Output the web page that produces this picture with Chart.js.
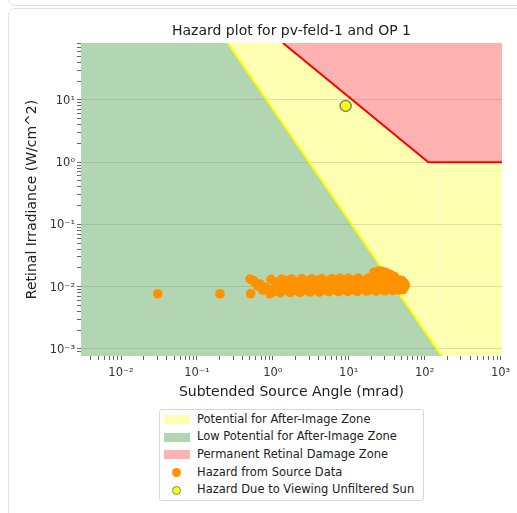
<!DOCTYPE html>
<html>
<head>
<meta charset="utf-8">
<script src="https://cdn.jsdelivr.net/npm/chart.js@4.4.1/dist/chart.umd.min.js"></script>
<style>
html, body { margin:0; padding:0; background:#fff; width:517px; height:513px; overflow:hidden; font-family:"DejaVu Sans", sans-serif; }
.prev { position:absolute; left:8px; top:-30px; width:620px; height:34px; border:1px solid #e2e2e2; border-radius:7px; }
.cell { position:absolute; left:8px; top:8px; width:620px; height:620px; border:1px solid #e2e2e2; border-radius:7px; }
#c { position:absolute; left:0; top:0; }
#legend { position:absolute; left:159px; top:409px; width:263px; height:90px; border:1px solid #d6d6d6; border-radius:3px; background:#fff; font-size:11.5px; color:#222; }
#legend .row { position:absolute; left:0; width:263px; height:17.7px; line-height:17.7px; white-space:nowrap; }
#legend .patch { position:absolute; left:4px; top:4.4px; width:26px; height:9px; }
#legend .dot { position:absolute; border-radius:50%; box-sizing:border-box; }
#legend .txt { position:absolute; left:37px; top:0; }
</style>
</head>
<body>
<div class="prev"></div>
<div class="cell"></div>
<canvas id="c" width="517" height="410"></canvas>
<div id="legend"></div>
<script>
// axis limits (mrad, W/cm^2)
var angleRange = [0.00297, 1045];
var irrRange = [0.00077, 82];

// zone boundaries
var lowZoneAngle = [0.00297, 0.255, 168];
var lowZoneIrr = [82, 82, 0.00077];
var afterImageAngle = [0.255, 168, 1045];
var afterImageIrr = [82, 0.00077, 0.00077];
var damageAngle = [1.36, 112, 1045];
var damageIrr = [82, 1, 1];

// hazard points
var hazardAngle = [
  0.0305, 0.201, 0.51,
  0.50, 0.56, 0.95, 1.31, 1.77, 2.40, 3.26, 4.41, 5.97, 7.68, 9.88, 13.4, 18.1, 23.4, 28.0,
  1.6, 2.6, 3.9, 5.4, 7.0, 9.0, 11.5, 14.5, 17.5, 21, 25, 30, 35, 40, 45, 50,
  0.58, 0.68, 1.08, 1.5, 2.05, 2.75, 3.7, 5.0, 6.7, 8.9, 11.8, 15.6, 20.5, 26.8, 34.5, 42.0,
  1.3, 1.8, 2.4, 3.2, 4.3, 5.7, 7.6, 10.0, 12.3, 15.0, 18.0, 21.5, 25.5, 30.5, 36, 41, 46, 50, 54,
  0.63, 0.80, 1.20, 1.62, 2.2, 2.95, 3.95, 5.3, 7.1, 9.4, 12.5, 16.6, 21.8, 28.5, 36.5, 44.5, 51.0, 55.5,
  1.1, 1.5, 2.0, 2.7, 3.6, 4.9, 6.5, 8.5, 11.0, 13.5, 16, 19, 22.5, 26.5, 31, 36, 41, 46, 51, 55,
  0.74, 1.0, 1.40, 1.90, 2.55, 3.4, 4.55, 6.0, 8.0, 10.6, 14.1, 18.7, 24.6, 32.0, 40.5, 48.5, 54.0,
  1.1, 1.55, 2.1, 2.8, 3.8, 5.0, 6.7, 8.8, 11.5, 15.5, 20.5, 27, 34.5, 43, 50,
  0.92, 1.25, 1.70, 2.3, 3.1, 4.1, 5.5, 7.3, 9.7, 13.0, 17.3, 23.0, 30.0, 38.0, 46.0, 52.0,
  21.5, 24.5, 27.5, 31.0, 35.0, 39.5,
  26, 30, 34, 38, 42, 46, 50, 53, 29, 33, 37, 41, 45, 49, 52
];
var hazardIrr = [
  0.0077, 0.0077, 0.0077,
  0.0132, 0.0124, 0.0131, 0.0133, 0.0133, 0.0134, 0.0134, 0.0135, 0.0135, 0.0136, 0.0136, 0.0137, 0.0138, 0.0140, 0.0142,
  0.0125, 0.0126, 0.0126, 0.0127, 0.0127, 0.0127, 0.0128, 0.0128, 0.0129, 0.0129, 0.0130, 0.0131, 0.0131, 0.0130, 0.0128, 0.0125,
  0.0118, 0.0110, 0.0118, 0.0119, 0.0119, 0.0120, 0.0120, 0.0120, 0.0121, 0.0121, 0.0121, 0.0122, 0.0122, 0.0123, 0.0122, 0.0120,
  0.0111, 0.0111, 0.0112, 0.0112, 0.0112, 0.0113, 0.0113, 0.0113, 0.0114, 0.0114, 0.0114, 0.0115, 0.0115, 0.0115, 0.0115, 0.0115, 0.0114, 0.0113, 0.0112,
  0.0102, 0.0098, 0.0104, 0.0104, 0.0105, 0.0105, 0.0105, 0.0106, 0.0106, 0.0106, 0.0107, 0.0107, 0.0107, 0.0107, 0.0108, 0.0108, 0.0108, 0.0107,
  0.0097, 0.0098, 0.0098, 0.0099, 0.0099, 0.0099, 0.0100, 0.0100, 0.0100, 0.0101, 0.0101, 0.0101, 0.0102, 0.0102, 0.0102, 0.0102, 0.0102, 0.0102, 0.0102, 0.0103,
  0.0088, 0.0090, 0.0091, 0.0092, 0.0092, 0.0093, 0.0093, 0.0094, 0.0094, 0.0094, 0.0095, 0.0095, 0.0095, 0.0096, 0.0096, 0.0097, 0.0098,
  0.0085, 0.0086, 0.0086, 0.0087, 0.0087, 0.0088, 0.0088, 0.0089, 0.0089, 0.0090, 0.0090, 0.0091, 0.0091, 0.0092, 0.0093,
  0.0077, 0.0080, 0.0081, 0.0081, 0.0082, 0.0082, 0.0083, 0.0083, 0.0084, 0.0084, 0.0085, 0.0085, 0.0086, 0.0087, 0.0088, 0.0090,
  0.0170, 0.0178, 0.0176, 0.0168, 0.0158, 0.0147,
  0.0128, 0.0129, 0.0130, 0.0129, 0.0128, 0.0126, 0.0122, 0.0116, 0.0113, 0.0114, 0.0115, 0.0115, 0.0114, 0.0112, 0.0110
];
var sunAngle = [9.1];
var sunIrr = [8.0];

var seriesLabels = ["Potential for After-Image Zone", "Low Potential for After-Image Zone",
  "Permanent Retinal Damage Zone", "Hazard from Source Data", "Hazard Due to Viewing Unfiltered Sun"];

var FONT = "DejaVu Sans";
Chart.defaults.font.family = FONT;

function pts(xs, ys) {
  return xs.map(function (x, i) { return {x: x, y: ys[i]}; });
}
var SUP = {"-": "\u207B", "0": "\u2070", "1": "\u00B9", "2": "\u00B2", "3": "\u00B3", "4": "\u2074",
  "5": "\u2075", "6": "\u2076", "7": "\u2077", "8": "\u2078", "9": "\u2079"};
function isPow10(v) {
  var e = Math.log10(v);
  return Math.abs(e - Math.round(e)) < 1e-9;
}
function isNice(v) {
  var m = v / Math.pow(10, Math.floor(Math.log10(v) + 1e-9));
  return Math.abs(m - Math.round(m)) < 1e-6;
}
function powLabel(v) {
  if (!isPow10(v)) return "";
  return "10" + String(Math.round(Math.log10(v))).split("").map(function (c) { return SUP[c]; }).join("");
}
function tickCol(ctx) {
  return ctx.tick && isNice(ctx.tick.value) ? "#666" : "rgba(0,0,0,0)";
}

var chart = new Chart(document.getElementById("c"), {
  type: "scatter",
  data: {
    datasets: [
      {
        type: "line", label: seriesLabels[0], order: 3,
        data: pts(afterImageAngle, afterImageIrr),
        borderColor: "#ffff00", borderWidth: 2, backgroundColor: "rgb(255,255,178)",
        fill: "end", pointRadius: 0, tension: 0,
        segment: { borderColor: function (ctx) { return ctx.p0.parsed.y <= irrRange[0] ? "rgba(0,0,0,0)" : undefined; } }
      },
      {
        type: "line", label: seriesLabels[1], order: 4,
        data: pts(lowZoneAngle, lowZoneIrr),
        borderWidth: 0, borderColor: "rgba(0,0,0,0)", backgroundColor: "rgb(178,214,178)",
        fill: "start", pointRadius: 0, tension: 0
      },
      {
        type: "line", label: seriesLabels[2], order: 2,
        data: pts(damageAngle, damageIrr),
        borderColor: "#ff0000", borderWidth: 2, backgroundColor: "rgb(255,178,178)",
        fill: "end", pointRadius: 0, tension: 0
      },
      {
        label: seriesLabels[3], order: 1,
        data: pts(hazardAngle, hazardIrr),
        pointRadius: 4.8, borderWidth: 0, backgroundColor: "#ff9200", pointBackgroundColor: "#ff9200"
      },
      {
        label: seriesLabels[4], order: 0,
        data: pts(sunAngle, sunIrr),
        pointRadius: 5.5, borderWidth: 1.5, borderColor: "#6e8b7d", backgroundColor: "#ffff00"
      }
    ]
  },
  options: {
    responsive: false,
    animation: false,
    events: [],
    layout: { padding: { left: 0, right: 15, top: 0, bottom: 0 } },
    plugins: {
      legend: { display: false },
      tooltip: { enabled: false },
      filler: { drawTime: "beforeDraw" },
      title: {
        display: true, text: "Hazard plot for pv-feld-1 and OP 1", fullSize: false,
        font: { family: FONT, size: 14, weight: "normal" }, color: "#222",
        padding: { top: 22.6, bottom: 3.6 }
      }
    },
    scales: {
      x: {
        type: "logarithmic", min: angleRange[0], max: angleRange[1],
        afterFit: function (s) { s.height = 54; },
        border: { display: false },
        grid: { drawOnChartArea: false, drawTicks: true, tickLength: 4, tickColor: tickCol },
        ticks: { autoSkip: false, maxRotation: 0, minRotation: 0, padding: 6.4, color: "#333",
          font: { family: FONT, size: 11.5 }, callback: powLabel },
        title: { display: true, text: "Subtended Source Angle (mrad)", color: "#222",
          font: { family: FONT, size: 14 }, padding: { top: 0, bottom: 9.3 } }
      },
      y: {
        type: "logarithmic", min: irrRange[0], max: irrRange[1],
        afterFit: function (s) { s.width = 81; },
        border: { display: false },
        grid: {
          drawTicks: true, tickLength: 4, tickColor: tickCol,
          color: function (ctx) { return ctx.tick && isPow10(ctx.tick.value) ? "rgba(110,110,110,0.22)" : "rgba(0,0,0,0)"; }
        },
        ticks: { autoSkip: false, padding: 2, color: "#333", labelOffset: 1,
          font: { family: FONT, size: 11.5 }, callback: powLabel },
        title: { display: true, text: "Retinal Irradiance (W/cm^2)", color: "#222",
          font: { family: FONT, size: 14 }, padding: { top: 23.9, bottom: 0 } }
      }
    }
  }
});

// legend box built from the chart's datasets
var box = document.getElementById("legend");
chart.data.datasets.forEach(function (ds, i) {
  var row = document.createElement("div");
  row.className = "row";
  row.style.top = (0.5 + i * 17.7) + "px";
  var mark = document.createElement("div");
  if (ds.type === "line") {
    mark.className = "patch";
    mark.style.background = ds.backgroundColor;
  } else {
    mark.className = "dot";
    var d = 9;
    mark.style.width = d + "px";
    mark.style.height = d + "px";
    mark.style.left = (16.3 - d / 2) + "px";
    mark.style.top = (8.85 - d / 2) + "px";
    mark.style.background = ds.backgroundColor;
    if (ds.borderWidth) mark.style.border = ds.borderWidth + "px solid " + ds.borderColor;
  }
  var txt = document.createElement("div");
  txt.className = "txt";
  txt.textContent = ds.label;
  row.appendChild(mark);
  row.appendChild(txt);
  box.appendChild(row);
});
</script>
</body>
</html>
